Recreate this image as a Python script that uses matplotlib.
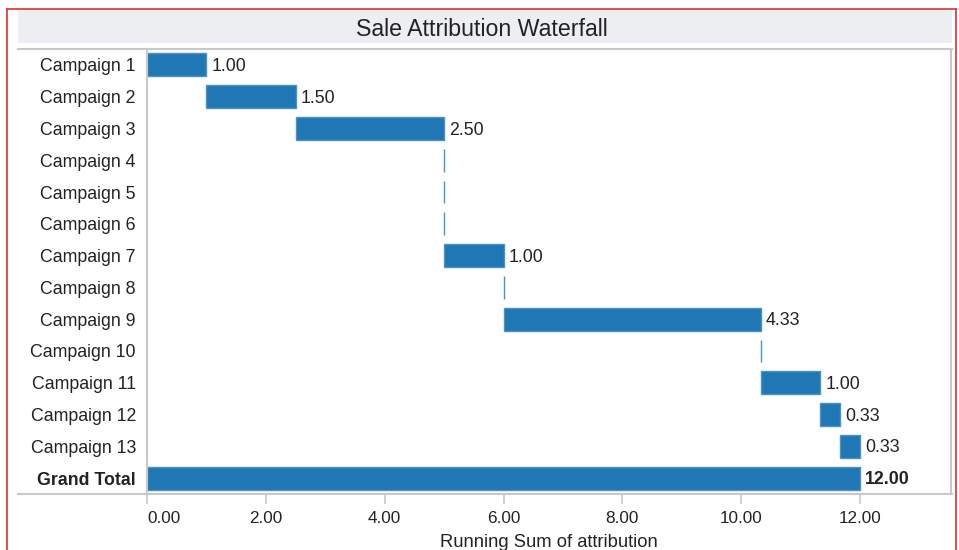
import matplotlib.pyplot as plt
import numpy as np
from matplotlib.lines import Line2D
from matplotlib.patches import Rectangle

plt.rcParams['font.family'] = ['Liberation Sans', 'DejaVu Sans']

# Data
campaigns = ['Campaign %d' % i for i in range(1, 14)]
attribution = [1.00, 1.50, 2.50, 0.0, 0.0, 0.0, 1.00, 0.0, 4.3333, 0.0, 1.00, 0.3333, 0.3333]
total_label = 'Grand Total'
x_ticks = [0, 2, 4, 6, 8, 10, 12]

BLUE = '#1f77b4'
GRID = '#c8c8c8'
TEXT = '#222222'
W, H = 959, 550

fig = plt.figure(figsize=(W / 100, H / 100), dpi=100)


def fx(px):
    return px / W


def fy(py):
    return 1 - py / H


# Outer red border and title band
for xs, ys in [([7, 7], [9, H + 5]), ([7, 956], [9, 9]), ([956, 956], [9, H + 5])]:
    fig.add_artist(Line2D([fx(x) for x in xs], [fy(y) for y in ys],
                          color='#e04040', lw=1.3))
fig.add_artist(Rectangle((fx(18), fy(43)), fx(952) - fx(18), fy(10) - fy(43),
                         transform=fig.transFigure, color='#eceef2', lw=0))
fig.text(fx(482), fy(27), 'Sale Attribution Waterfall', ha='center',
         va='center_baseline', fontsize=16.7, color=TEXT)

# Frame lines that extend past the axes
for xs, ys in [([18, 952], [49, 49]), ([18, 952], [494, 494])]:
    fig.add_artist(Line2D([fx(x) for x in xs], [fy(y) for y in ys],
                          color=GRID, lw=1.5))

ax = fig.add_axes([fx(147), fy(494), fx(951) - fx(147), fy(49) - fy(494)])

labels = campaigns + [total_label]
values = np.array(attribution)
starts = np.concatenate([[0], np.cumsum(values)[:-1]])
total = values.sum()
lefts = list(starts) + [0]
widths = list(values) + [total]
ypos = np.arange(len(labels))

ax.barh(ypos, widths, left=lefts, height=0.72, color=BLUE,
        edgecolor='#4a93c8', linewidth=1)

for i, (l, w) in enumerate(zip(lefts, widths)):
    if w == 0:
        continue
    bold = i == len(labels) - 1
    ax.text(l + w + 0.08, i + 0.05, '%.2f' % w, va='center', ha='left',
            fontsize=12.8, color=TEXT, fontweight='bold' if bold else 'normal')

ax.set_ylim(len(labels) - 0.5, -0.5)
ax.set_xlim(0, 13.53)
ax.set_yticks(ypos)
ax.set_yticklabels(labels, fontsize=12.8, color=TEXT)
ax.get_yticklabels()[-1].set_fontweight('bold')
ax.tick_params(axis='y', length=0, pad=8)
ax.set_xticks(x_ticks)
ax.set_xticklabels(['%.2f' % t for t in x_ticks], fontsize=12.3, color=TEXT)
ax.get_xticklabels()[0].set_horizontalalignment('left')
ax.tick_params(axis='x', length=7, color=GRID, width=1.2, pad=5)
ax.set_xlabel('Running Sum of attribution', fontsize=13.2, color=TEXT, labelpad=6)

for side in ['top', 'bottom']:
    ax.spines[side].set_visible(False)
for side in ['left', 'right']:
    ax.spines[side].set_color(GRID)
    ax.spines[side].set_linewidth(1.5)

fig.savefig('out.png', dpi=100)
